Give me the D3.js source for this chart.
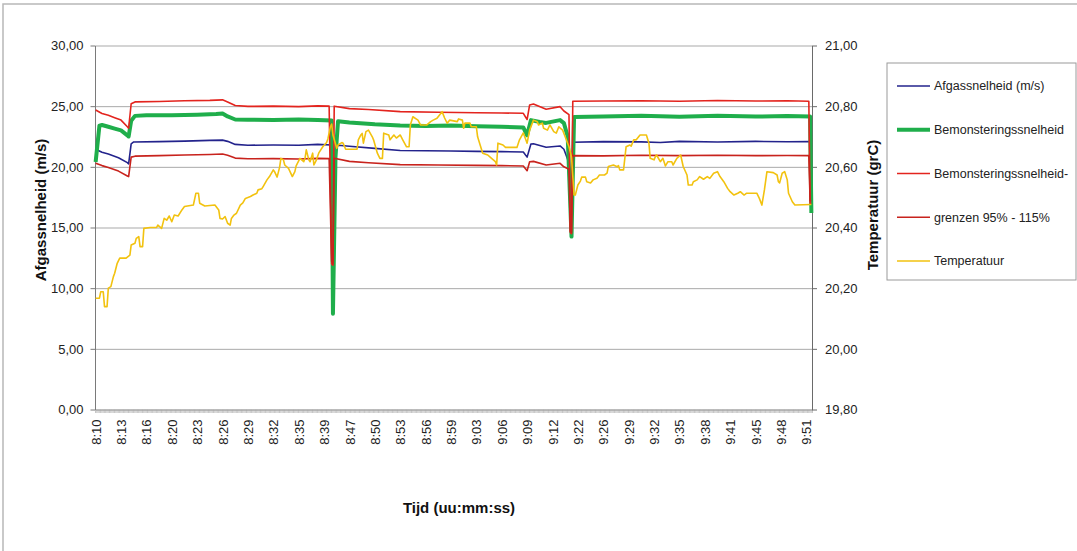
<!DOCTYPE html>
<html><head><meta charset="utf-8">
<script src="https://cdn.jsdelivr.net/npm/d3@7"></script>
<style>
html,body{margin:0;padding:0;background:#fff;}
svg{display:block;font-family:"Liberation Sans",Arial,sans-serif;}
</style></head><body>
<svg id="chart" width="1077" height="551"></svg>
<script>
// ---- data ----
const timeLabels = ["8:10","8:13","8:16","8:20","8:23","8:26","8:29","8:32","8:35","8:39","8:47","8:50","8:53","8:56","8:59","9:03","9:06","9:09","9:12","9:22","9:26","9:29","9:32","9:35","9:38","9:41","9:45","9:48","9:51"];
const sampleCount = 565;   // number of samples on the category axis
const labelEvery = 20;     // one time label every 20 samples
const leftTicks = [0,5,10,15,20,25,30];
const rightTicks = [19.8,20.0,20.2,20.4,20.6,20.8,21.0];
const seriesNames = ["Afgassnelheid (m/s)","Bemonsteringssnelheid","Bemonsteringssnelheid-","grenzen 95% - 115%","Temperatuur"];

// [sample index, value]
const afgassnelheid = [[0,21.45],[5,21.2],[10,21.05],[18,20.75],[25,20.35],[26,20.25],[28,21.9],[30,22.05],[50,22.08],[70,22.12],[90,22.18],[100,22.2],[104,22.1],[110,21.85],[120,21.78],[140,21.8],[160,21.78],[175,21.85],[186,21.8],[187,9.0],[188,19.0],[189,21.5],[191,21.78],[200,21.7],[220,21.52],[240,21.35],[260,21.32],[280,21.3],[300,21.27],[320,21.25],[337,21.22],[340,20.8],[343,21.88],[345,21.9],[355,21.62],[366,21.72],[369,21.45],[372,20.6],[375,15.5],[376,22.02],[400,22.08],[430,22.06],[445,22.0],[460,22.1],[490,22.05],[520,22.1],[545,22.07],[563,22.08],[564,16.5]];
const bemonstering = [[0,20.4],[3,23.4],[5,23.45],[10,23.3],[15,23.15],[20,23.0],[25,22.6],[26,22.5],[28,23.8],[31,24.2],[40,24.25],[60,24.25],[80,24.3],[95,24.35],[100,24.4],[104,24.15],[110,23.9],[120,23.88],[140,23.85],[160,23.9],[175,23.85],[186,23.82],[187,7.9],[189,20.8],[191,23.75],[200,23.65],[220,23.5],[240,23.4],[260,23.37],[280,23.4],[300,23.35],[320,23.3],[337,23.25],[340,22.6],[343,23.85],[350,23.7],[355,23.62],[366,23.85],[369,23.6],[372,22.5],[375,14.25],[377,24.1],[400,24.15],[430,24.2],[460,24.12],[490,24.2],[520,24.15],[545,24.18],[563,24.15],[564,16.2]];
const grensBoven = [[0,24.68],[5,24.4],[10,24.25],[15,24.05],[20,23.85],[25,23.3],[26,23.18],[28,25.2],[31,25.35],[50,25.38],[70,25.45],[90,25.48],[100,25.52],[104,25.35],[110,25.05],[120,24.98],[140,25.0],[160,24.96],[175,25.02],[184,25.0],[186,12.0],[187,11.9],[188,25.0],[200,24.8],[215,24.72],[240,24.55],[270,24.5],[300,24.46],[320,24.44],[337,24.41],[340,23.9],[342,25.1],[345,25.18],[355,24.75],[366,24.96],[369,24.6],[373,24.3],[374,14.6],[375,14.5],[376,25.4],[400,25.42],[430,25.45],[460,25.4],[490,25.47],[520,25.42],[545,25.45],[562,25.4],[563,17.0],[564,17.0]];
const grensOnder = [[0,20.3],[5,20.1],[10,19.95],[18,19.65],[25,19.25],[26,19.19],[28,20.8],[31,20.88],[50,20.92],[70,20.98],[90,21.02],[100,21.06],[104,20.95],[110,20.72],[120,20.66],[140,20.68],[160,20.65],[175,20.7],[184,20.68],[186,12.2],[187,12.0],[188,20.7],[200,20.45],[215,20.34],[240,20.18],[270,20.15],[300,20.12],[320,20.1],[337,20.07],[340,19.68],[342,20.42],[345,20.45],[355,20.15],[366,20.29],[369,20.0],[373,19.8],[374,14.7],[375,14.6],[376,20.92],[400,20.9],[430,20.95],[460,20.92],[490,20.96],[520,20.92],[545,20.94],[562,20.92],[563,17.2],[564,17.2]];
const temperatuur = [[0,20.167],[3,20.167],[4,20.188],[6,20.188],[7,20.139],[9,20.139],[10,20.200],[12,20.205],[14,20.238],[15,20.249],[17,20.282],[19,20.299],[24,20.299],[27,20.309],[28,20.342],[31,20.348],[32,20.364],[34,20.370],[35,20.337],[37,20.337],[38,20.397],[43,20.400],[48,20.400],[49,20.408],[52,20.397],[54,20.430],[56,20.424],[58,20.438],[60,20.419],[62,20.441],[65,20.438],[68,20.458],[70,20.469],[77,20.474],[79,20.513],[81,20.513],[82,20.480],[86,20.471],[94,20.474],[97,20.458],[98,20.430],[100,20.428],[102,20.436],[104,20.414],[106,20.408],[107,20.430],[109,20.441],[111,20.447],[114,20.474],[116,20.481],[118,20.496],[122,20.502],[124,20.507],[127,20.513],[128,20.524],[131,20.528],[132,20.535],[135,20.557],[137,20.568],[140,20.590],[141,20.584],[143,20.566],[145,20.599],[146,20.628],[148,20.623],[149,20.606],[152,20.595],[155,20.568],[157,20.584],[158,20.603],[161,20.628],[164,20.617],[165,20.628],[166,20.656],[168,20.623],[169,20.617],[171,20.645],[172,20.606],[174,20.623],[176,20.647],[179,20.666],[182,20.680],[183,20.692],[185,20.732],[186,20.741],[187,20.705],[190,20.661],[191,20.672],[194,20.680],[195,20.678],[197,20.658],[206,20.658],[207,20.689],[209,20.705],[210,20.710],[211,20.678],[213,20.716],[215,20.721],[218,20.699],[219,20.689],[222,20.645],[224,20.628],[226,20.628],[227,20.711],[231,20.705],[232,20.689],[235,20.705],[237,20.695],[240,20.705],[242,20.689],[245,20.666],[247,20.666],[248,20.738],[250,20.765],[254,20.754],[256,20.738],[261,20.738],[264,20.749],[266,20.754],[269,20.760],[271,20.771],[273,20.782],[275,20.761],[277,20.744],[279,20.754],[285,20.749],[286,20.758],[289,20.754],[290,20.727],[291,20.744],[295,20.744],[296,20.732],[300,20.732],[301,20.699],[303,20.672],[305,20.645],[309,20.639],[312,20.628],[315,20.617],[316,20.606],[317,20.678],[321,20.672],[323,20.664],[332,20.664],[334,20.689],[337,20.712],[339,20.689],[340,20.678],[342,20.721],[345,20.754],[348,20.749],[349,20.738],[352,20.744],[353,20.727],[356,20.721],[358,20.738],[361,20.716],[363,20.711],[365,20.732],[368,20.721],[370,20.699],[373,20.666],[375,20.633],[377,20.507],[378,20.507],[380,20.540],[382,20.553],[383,20.566],[386,20.566],[387,20.551],[390,20.547],[392,20.557],[395,20.562],[397,20.573],[401,20.573],[403,20.579],[404,20.601],[408,20.606],[411,20.600],[412,20.604],[413,20.590],[416,20.590],[417,20.628],[418,20.666],[421,20.672],[422,20.668],[424,20.689],[426,20.689],[429,20.705],[434,20.705],[436,20.678],[437,20.628],[440,20.623],[441,20.633],[442,20.639],[445,20.617],[447,20.628],[449,20.603],[451,20.617],[454,20.617],[455,20.606],[458,20.628],[461,20.639],[463,20.601],[466,20.573],[467,20.540],[470,20.540],[471,20.551],[474,20.557],[476,20.568],[479,20.559],[482,20.568],[484,20.562],[487,20.579],[490,20.584],[492,20.568],[495,20.551],[498,20.529],[500,20.518],[503,20.507],[506,20.513],[508,20.518],[511,20.507],[513,20.513],[521,20.513],[523,20.496],[525,20.474],[527,20.524],[529,20.584],[534,20.581],[537,20.573],[538,20.551],[539,20.547],[541,20.579],[543,20.584],[545,20.557],[546,20.513],[549,20.485],[551,20.474],[564,20.476]];

// ---- layout ----
const svg = d3.select("#chart");
const L = 95, R = 812, T = 45.5, B = 409.5;
const x = d3.scaleLinear().domain([0, sampleCount]).range([L, R]);
const yL = d3.scaleLinear().domain([0, 30]).range([B, T]);
const yR = d3.scaleLinear().domain([19.8, 21.0]).range([B, T]);
const fmt = v => d3.format(".2f")(v).replace(".", ",");

// outer frame
svg.append("rect").attr("x", 3).attr("y", 4).attr("width", 1090).attr("height", 560)
  .attr("fill", "none").attr("stroke", "#b8b8b8").attr("stroke-width", 1.5);

// gridlines
svg.append("g").attr("transform", `translate(${L},0)`)
  .call(d3.axisLeft(yL).tickValues(leftTicks.slice(1)).tickSize(-(R - L)).tickFormat(""))
  .call(g => g.select(".domain").remove())
  .call(g => g.selectAll("line").attr("stroke", "#a9a9a9").attr("stroke-width", 1));

// minor ticks on the category axis (one per sample boundary)
svg.append("g").attr("transform", `translate(0,${B})`)
  .call(d3.axisBottom(x).tickValues(d3.range(0, sampleCount + 1)).tickSize(3.5).tickFormat("").tickSizeOuter(0))
  .call(g => g.select(".domain").attr("stroke", "#8a8a8a"))
  .call(g => g.selectAll(".tick line").attr("stroke", "#a0a0a0").attr("stroke-width", 0.6));

// time labels
const labelIdx = timeLabels.map((_, k) => k * labelEvery + 0.5);
svg.append("g").attr("transform", `translate(0,${B})`)
  .call(d3.axisBottom(x).tickValues(labelIdx).tickSize(0).tickFormat((d, i) => timeLabels[i]))
  .call(g => g.select(".domain").remove())
  .call(g => g.selectAll("text")
    .attr("transform", "rotate(-90)").attr("x", -10).attr("y", 0).attr("dy", "0.35em")
    .style("text-anchor", "end").attr("font-size", 13).attr("font-family", "Liberation Sans, Arial, sans-serif").attr("fill", "#222"));

// left axis
svg.append("g").attr("transform", `translate(${L},0)`)
  .call(d3.axisLeft(yL).tickValues(leftTicks).tickSize(4.5).tickPadding(7).tickFormat(fmt).tickSizeOuter(0))
  .call(g => g.select(".domain").attr("stroke", "#7a7a7a"))
  .call(g => g.selectAll(".tick line").attr("stroke", "#7a7a7a"))
  .call(g => g.selectAll("text").attr("font-size", 13).attr("font-family", "Liberation Sans, Arial, sans-serif").attr("fill", "#222"));

// right axis
svg.append("g").attr("transform", `translate(${R},0)`)
  .call(d3.axisRight(yR).tickValues(rightTicks).tickSize(5).tickPadding(8).tickFormat(fmt).tickSizeOuter(0))
  .call(g => g.select(".domain").attr("stroke", "#6a6a6a"))
  .call(g => g.selectAll(".tick line").attr("stroke", "#6a6a6a"))
  .call(g => g.selectAll("text").attr("font-size", 13).attr("font-family", "Liberation Sans, Arial, sans-serif").attr("fill", "#222"));

// lines
const lineL = d3.line().x(d => x(d[0] + 0.5)).y(d => yL(d[1]));
const lineR = d3.line().x(d => x(d[0] + 0.5)).y(d => yR(d[1]));
const styles = [
  {data: afgassnelheid, line: lineL, color: "#23238c", w: 1.6},
  {data: bemonstering, line: lineL, color: "#1fae4b", w: 4},
  {data: grensBoven, line: lineL, color: "#e3241e", w: 1.6},
  {data: grensOnder, line: lineL, color: "#c8231d", w: 1.6},
  {data: temperatuur, line: lineR, color: "#f2c20f", w: 1.6}
];
styles.forEach(s => {
  svg.append("path").datum(s.data).attr("d", s.line)
    .attr("fill", "none").attr("stroke", s.color).attr("stroke-width", s.w)
    .attr("stroke-linejoin", "round");
});

// axis titles
svg.append("text").attr("transform", "translate(40.5,210) rotate(-90)").attr("dy", "0.35em")
  .attr("text-anchor", "middle").attr("font-weight", "bold").attr("font-size", 15).attr("fill", "#111")
  .text("Afgassnelheid (m/s)");
svg.append("text").attr("transform", "translate(872.5,205) rotate(-90)").attr("dy", "0.35em")
  .attr("text-anchor", "middle").attr("font-weight", "bold").attr("font-size", 15).attr("fill", "#111")
  .text("Temperatuur (grC)");
svg.append("text").attr("x", 459).attr("y", 513)
  .attr("text-anchor", "middle").attr("font-weight", "bold").attr("font-size", 15).attr("fill", "#111")
  .text("Tijd (uu:mm:ss)");

// legend
const lg = svg.append("g");
lg.append("rect").attr("x", 887).attr("y", 63).attr("width", 189).attr("height", 217)
  .attr("fill", "#fff").attr("stroke", "#9a9a9a").attr("stroke-width", 1);
const legendY = d3.scalePoint().domain(seriesNames).range([86, 261]);
seriesNames.forEach((n, i) => {
  const yy = legendY(n);
  lg.append("line").attr("x1", 897).attr("x2", 930).attr("y1", yy).attr("y2", yy)
    .attr("stroke", styles[i].color).attr("stroke-width", styles[i].w);
  lg.append("text").attr("x", 934).attr("y", yy).attr("dy", "0.35em")
    .attr("font-size", 12.5).attr("fill", "#222").text(n);
});
</script></body></html>
